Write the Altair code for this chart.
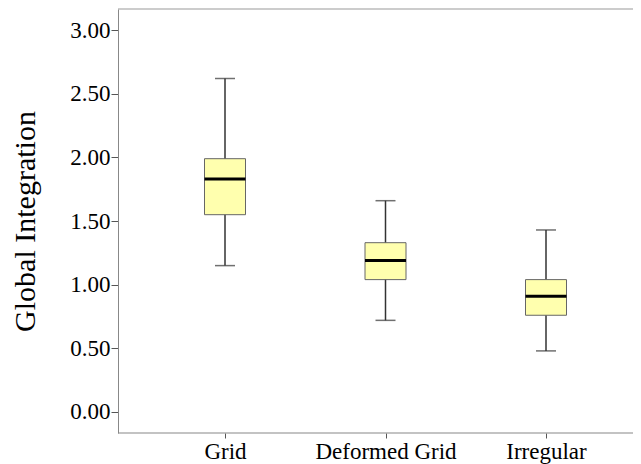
import altair as alt
import pandas as pd

categories = ["Grid", "Deformed Grid", "Irregular"]
whisker_low = [1.15, 0.72, 0.48]
q1 = [1.55, 1.04, 0.76]
median = [1.83, 1.19, 0.91]
q3 = [1.99, 1.33, 1.04]
whisker_high = [2.62, 1.66, 1.43]
y_ticks = [0.0, 0.5, 1.0, 1.5, 2.0, 2.5, 3.0]

df = pd.DataFrame({
    "cat": categories,
    "low": whisker_low,
    "q1": q1,
    "med": median,
    "q3": q3,
    "high": whisker_high,
})

W, H = 515, 424
FONT = "Liberation Serif"

x = alt.X(
    "cat:N",
    sort=categories,
    scale=alt.Scale(type="point", range=[107, 428], padding=0),
    axis=alt.Axis(title=None, labelAngle=0, labelFontSize=23, labelFont=FONT,
                  labelColor="black", tickSize=5, labelPadding=2,
                  domain=False, tickColor="#555"),
)
yscale = alt.Scale(domain=[-0.165, 3.166], nice=False, zero=False)
y = alt.Y(
    "low:Q",
    scale=yscale,
    axis=alt.Axis(title="Global Integration", values=y_ticks, format=".2f",
                  labelFontSize=23, labelFont=FONT, labelColor="black",
                  tickSize=7, tickColor="#555", labelPadding=1,
                  domainColor="#888", grid=False,
                  titleFont=FONT, titleFontSize=30, titleFontWeight="normal",
                  titleColor="black", titleAngle=-90, titleX=-93, titleY=212,
                  titleAlign="center", titleBaseline="middle"),
)

base = alt.Chart(df)

whiskers = base.mark_rule(color="#333", strokeWidth=1.5).encode(
    x=x, y=y, y2="high:Q"
)
box = base.mark_bar(size=41, fill="#FFFFAE", stroke="#666", strokeWidth=1).encode(
    x=x, y=alt.Y("q1:Q", scale=yscale), y2="q3:Q"
)
cap_low = base.mark_tick(size=20, thickness=1.5, color="#333").encode(
    x=x, y=alt.Y("low:Q", scale=yscale)
)
cap_high = base.mark_tick(size=20, thickness=1.5, color="#333").encode(
    x=x, y=alt.Y("high:Q", scale=yscale)
)
med = base.mark_tick(size=41, thickness=3, color="black", opacity=1).encode(
    x=x, y=alt.Y("med:Q", scale=yscale)
)
frame = pd.DataFrame({"a": [0]})
top = alt.Chart(frame).mark_rule(color="#999", strokeWidth=1.2).encode(
    x=alt.value(0), x2=alt.value(W), y=alt.value(0)
)
bottom = alt.Chart(frame).mark_rule(color="#888", strokeWidth=1.2).encode(
    x=alt.value(0), x2=alt.value(W), y=alt.value(H)
)

chart = alt.layer(whiskers, box, cap_low, cap_high, med, top, bottom).properties(
    width=W, height=H,
    autosize=alt.AutoSizeParams(type="none"),
    padding={"left": 110, "top": 1, "right": 0, "bottom": 31},
).configure_view(stroke=None)

chart.save("out.html", embed_options={"renderer": "svg", "actions": False})
